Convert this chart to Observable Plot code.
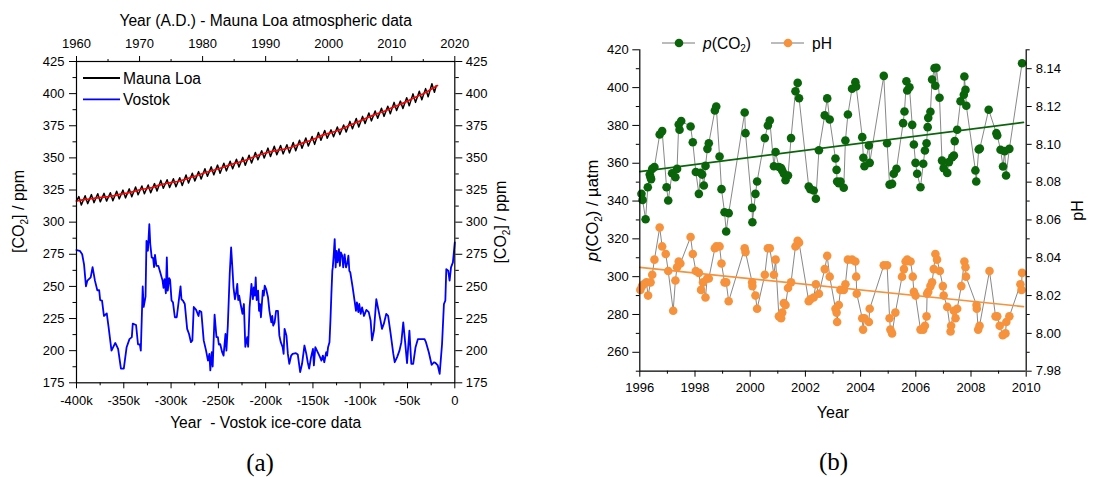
<!DOCTYPE html>
<html><head><meta charset="utf-8">
<script src="https://cdn.jsdelivr.net/npm/d3@7"></script>
<script src="https://cdn.jsdelivr.net/npm/@observablehq/plot@0.6"></script>
<style>
body{margin:0;background:#fff;}
#wrap{position:relative;width:1099px;height:477px;overflow:hidden;background:#fff;font-family:"Liberation Sans",Arial,sans-serif;}
#pa,#pb{position:absolute;top:0;}
#pa{left:0}
#pb{left:550px}
#ov{position:absolute;left:0;top:0;pointer-events:none}
</style></head>
<body><div id="wrap"><div id="pa"></div><div id="pb"></div><svg id="ov" width="1099" height="477"></svg></div>
<script>
// ---------- Panel (a) data ----------
const mlYears = d3.range(1960, 2017);
const mlPeak = [319.9,320.6,321.4,322.1,322.4,322.9,324.1,324.9,325.9,327.4,
  328.1,328.9,330.0,332.5,333.0,333.8,334.6,336.7,338.0,339.3,
  341.5,343.0,344.4,345.9,347.4,348.9,350.4,352.0,354.2,355.6,
  357.6,359.1,359.6,360.2,362.0,363.8,365.5,366.7,369.7,371.3,
  371.8,374.0,375.6,378.4,380.6,382.3,384.9,386.5,388.6,390.2,
  393.2,394.2,396.8,399.8,401.8,403.9,407.7];
const mlTrough = [313.3,314.4,315.2,315.8,316.4,316.7,318.1,318.9,319.7,321.3,
  322.1,322.9,324.2,326.4,326.9,327.6,328.5,330.5,332.1,333.5,
  335.7,336.8,338.1,339.9,341.6,342.9,344.3,346.1,348.6,349.9,
  351.1,352.4,353.1,353.9,355.6,357.5,359.3,360.5,363.7,365.3,
  366.5,368.2,370.1,372.7,374.0,376.7,378.8,380.8,382.3,384.3,
  386.8,388.4,390.5,393.2,395.3,397.5,401.0];
const mlFirst = [1960.0, 316.4];
const mlLast = [2017.05, 406.1];
const mlTrend = [[1960,316.5],[1961,317.3],[1962,318.0],[1963,318.7],[1964,319.3],[1965,319.8],[1966,320.7],[1967,321.8],[1968,322.6],[1969,323.8],
  [1970,325.2],[1971,326.0],[1972,326.9],[1973,328.6],[1974,329.9],[1975,330.7],[1976,331.6],[1977,332.9],[1978,334.6],[1979,336.1],
  [1980,337.8],[1981,339.4],[1982,340.8],[1983,342.3],[1984,344.0],[1985,345.6],[1986,347.0],[1987,348.5],[1988,350.5],[1989,352.4],
  [1990,353.8],[1991,355.1],[1992,356.1],[1993,356.9],[1994,358.1],[1995,360.0],[1996,361.9],[1997,363.3],[1998,365.4],[1999,367.7],
  [2000,369.1],[2001,370.5],[2002,372.4],[2003,374.7],[2004,376.8],[2005,378.8],[2006,381.0],[2007,383.1],[2008,384.9],[2009,386.7],
  [2010,388.9],[2011,391.0],[2012,393.0],[2013,395.4],[2014,397.8],[2015,399.9],[2016,402.7],[2017,405.6],[2017.25,406.3]];
// Vostok: [thousand years, ppm]
const vostok = [[-400,278.3],[-396.5,277.7],[-394,275],[-392,267],[-390,250],[-388.5,254.5],[-385,257],[-383,265],[-380.5,254.5],[-378,247],[-376,247],[-375,239.4],[-373,239],[-371,227],[-368,229],[-366,218],[-363,200],[-359,206],[-356,201.4],[-353,186],[-350,186],[-347,202.7],[-344,209],[-341.5,210.5],[-340.5,221],[-337,220],[-335,205],[-333,204.8],[-332,200],[-330,250],[-329,234],[-327,242],[-326,285.5],[-324.5,277.7],[-323,298.4],[-322,283],[-320.5,272.6],[-319,272],[-318,265],[-317,274.6],[-315.5,266],[-313.5,266],[-311.5,261],[-309,254.5],[-308,248.8],[-307,255.7],[-305.5,244.6],[-304.5,272.6],[-303.5,246.7],[-302,256.5],[-301,255],[-299.5,239],[-298,237.6],[-296,226],[-294,226],[-290,250],[-289,240],[-287.5,239],[-285.5,236.3],[-283,217],[-281,213],[-279,206.6],[-277.5,208],[-276,234],[-273.5,231.7],[-271,227],[-270,231],[-268,230],[-265.5,208],[-263,200],[-261,192.3],[-259.5,197.5],[-258.5,184.6],[-257,198.8],[-256,187.7],[-254,228],[-252,210.5],[-250.5,210.5],[-249.5,204.8],[-248,205],[-246,198.8],[-244.5,196.2],[-242.5,213],[-241.5,200],[-240,219.5],[-238,259.6],[-236.5,280.3],[-235,262.2],[-234,249.3],[-232.5,240],[-231,246],[-230,252],[-229,239.4],[-228,242.8],[-226.5,236.3],[-224.5,228.6],[-223,236.3],[-221.5,203],[-219.5,210.5],[-218.5,203],[-217,233.7],[-215,252],[-213.5,240],[-212.5,249.3],[-211.5,242.8],[-210.5,257],[-209.5,239.4],[-208,246.7],[-207,231],[-206,236.3],[-205,226],[-203,246.7],[-202,242.8],[-201,250.6],[-199.5,248],[-197.5,241.5],[-196,231],[-194,222],[-193,227],[-192,219.5],[-190.5,222],[-189,231],[-187,231],[-185.5,211.7],[-184,206.6],[-182,202.7],[-181,197.5],[-180,217],[-178,211.7],[-176.5,197.5],[-175,189.8],[-173,196.2],[-171.5,197.5],[-168,198],[-166,197],[-163.5,183.3],[-161.5,189.8],[-159,204],[-157,197.5],[-155.5,191],[-154,186],[-152,195],[-150,201.4],[-149,188.5],[-147.5,202.7],[-145,198.8],[-142.5,195],[-141,192.3],[-139.5,196.2],[-138,191],[-136,198.8],[-135,196.2],[-134,202.7],[-132.5,206.6],[-131.5,223.4],[-130.5,244],[-129.5,262],[-129,264.8],[-128,275],[-127,286.8],[-126,264.8],[-125,277.7],[-124,268.7],[-122.5,279],[-121.5,266],[-120.5,276.4],[-119,273.9],[-118,264.8],[-116.5,275],[-115,264.8],[-113.5,268.7],[-112.5,273.9],[-111.5,262],[-110.5,261],[-108,249.3],[-106,239],[-104.5,231],[-103.5,237.6],[-102,230],[-101,236.3],[-99.5,228.6],[-98,233.7],[-96,227],[-93.5,231.7],[-91,230],[-89,223.4],[-87.5,208],[-85.5,215.6],[-83,240],[-81,232.5],[-78.5,223.4],[-77,217],[-75,221],[-72.5,228.6],[-70.5,227],[-68,214],[-65,197.5],[-63.5,191],[-61,195],[-58.5,200],[-56.5,206.6],[-54.5,222],[-53,210.5],[-50.5,190.3],[-48,215.6],[-46,189.8],[-44,189.8],[-41.5,202.7],[-39,209],[-36.5,209],[-32,209],[-30.5,206.6],[-27.5,198.8],[-24.5,189],[-22,191],[-20.5,190.5],[-18,188.5],[-16,182],[-13.5,205],[-11.5,236.3],[-10,239],[-9,263.5],[-7,262.2],[-5.5,254.5],[-4,264.8],[-2,268.7],[0,284.2]];
const xMajorA = [-400,-350,-300,-250,-200,-150,-100,-50,0];
const xMinorA = [-375,-325,-275,-225,-175,-125,-75,-25];
const topMajorA = [1960,1970,1980,1990,2000,2010,2020];
const topMinorA = [1965,1975,1985,1995,2005,2015];
const yMajorA = [175,200,225,250,275,300,325,350,375,400,425];
const yMinorA = [187.5,212.5,237.5,262.5,287.5,312.5,337.5,362.5,387.5,412.5];

// ---------- Panel (b) data ----------
const co2 = [[1996.06,343.8],[1996.10,340.6],[1996.21,330.4],[1996.29,347.3],[1996.36,354.0],[1996.39,352.6],[1996.41,351.6],[1996.45,357.0],[1996.53,358.0],[1996.72,375.2],[1996.81,377.0],[1996.97,347.3],[1997.03,340.3],[1997.17,354.7],[1997.29,352.6],[1997.35,357.0],[1997.41,380.5],[1997.44,377.7],[1997.50,382.3],[1997.84,379.4],[1997.92,371.1],[1998.03,355.4],[1998.14,343.8],[1998.20,355.0],[1998.26,354.0],[1998.32,348.2],[1998.38,358.6],[1998.45,367.6],[1998.50,370.6],[1998.72,387.9],[1998.77,390.0],[1998.89,363.6],[1998.96,346.3],[1999.07,334.1],[1999.13,323.9],[1999.22,333.6],[1999.80,386.8],[1999.83,375.9],[2000.07,336.4],[2000.08,328.8],[2000.19,343.8],[2000.25,350.3],[2000.53,373.3],[2000.64,380.0],[2000.71,382.6],[2000.86,358.4],[2000.92,365.9],[2001.04,358.0],[2001.12,357.5],[2001.16,356.2],[2001.22,354.4],[2001.28,351.0],[2001.37,353.5],[2001.48,373.3],[2001.64,398.1],[2001.72,402.5],[2001.77,394.4],[2002.12,347.7],[2002.18,346.3],[2002.30,345.6],[2002.38,341.2],[2002.49,366.9],[2002.70,385.3],[2002.79,394.3],[2002.88,383.1],[2003.09,362.5],[2003.13,356.5],[2003.15,350.3],[2003.21,349.5],[2003.27,350.3],[2003.39,347.0],[2003.45,372.0],[2003.54,385.8],[2003.69,399.4],[2003.81,402.9],[2003.84,400.6],[2004.06,373.8],[2004.10,362.9],[2004.14,358.4],[2004.30,369.4],[2004.33,360.2],[2004.84,406.2],[2004.96,370.6],[2005.05,348.7],[2005.14,349.1],[2005.20,354.4],[2005.30,357.0],[2005.54,381.2],[2005.59,387.4],[2005.66,403.4],[2005.69,398.5],[2005.77,400.2],[2005.87,380.3],[2005.93,369.9],[2005.99,360.2],[2006.05,354.4],[2006.17,347.3],[2006.27,359.7],[2006.33,366.7],[2006.39,370.6],[2006.43,379.1],[2006.45,384.0],[2006.53,387.2],[2006.59,404.3],[2006.68,410.3],[2006.71,401.0],[2006.75,410.5],[2006.86,394.6],[2006.95,361.4],[2007.01,357.4],[2007.14,354.9],[2007.20,360.6],[2007.32,363.2],[2007.38,364.1],[2007.41,371.7],[2007.50,377.7],[2007.62,392.8],[2007.74,396.2],[2007.76,405.9],[2007.80,398.8],[2007.83,390.4],[2008.16,356.2],[2008.19,350.3],[2008.28,367.3],[2008.32,367.8],[2008.64,388.3],[2008.92,375.9],[2008.95,374.7],[2009.07,367.1],[2009.16,358.3],[2009.22,366.4],[2009.27,353.5],[2009.39,367.6],[2009.85,412.9]];
const ph = [[1996.02,8.023],[1996.08,8.025],[1996.14,8.026],[1996.24,8.027],[1996.30,8.020],[1996.39,8.027],[1996.45,8.031],[1996.53,8.039],[1996.72,8.056],[1996.81,8.046],[1996.94,8.042],[1997.03,8.033],[1997.21,8.012],[1997.29,8.028],[1997.35,8.035],[1997.41,8.038],[1997.47,8.037],[1997.84,8.051],[1997.92,8.042],[1998.03,8.033],[1998.14,8.032],[1998.22,8.023],[1998.29,8.027],[1998.38,8.019],[1998.44,8.029],[1998.50,8.029],[1998.72,8.045],[1998.77,8.046],[1998.89,8.046],[1998.96,8.037],[1999.07,8.027],[1999.13,8.027],[1999.22,8.017],[1999.80,8.045],[1999.83,8.043],[2000.07,8.027],[2000.08,8.025],[2000.19,8.020],[2000.25,8.013],[2000.53,8.031],[2000.64,8.045],[2000.71,8.045],[2000.86,8.031],[2000.92,8.039],[2001.04,8.009],[2001.12,8.008],[2001.16,8.011],[2001.22,8.016],[2001.28,8.015],[2001.37,8.024],[2001.48,8.027],[2001.64,8.046],[2001.72,8.049],[2001.77,8.048],[2002.12,8.017],[2002.18,8.018],[2002.30,8.019],[2002.38,8.026],[2002.49,8.021],[2002.70,8.034],[2002.79,8.041],[2002.88,8.030],[2003.09,8.013],[2003.13,8.011],[2003.15,8.006],[2003.21,8.015],[2003.27,8.023],[2003.39,8.023],[2003.45,8.026],[2003.54,8.039],[2003.69,8.039],[2003.81,8.038],[2003.84,8.030],[2003.86,8.021],[2004.06,8.008],[2004.09,8.002],[2004.14,8.008],[2004.30,8.006],[2004.33,8.013],[2004.84,8.036],[2004.96,8.036],[2005.05,8.008],[2005.08,8.002],[2005.14,8.000],[2005.26,8.011],[2005.50,8.030],[2005.57,8.034],[2005.63,8.038],[2005.69,8.039],[2005.81,8.038],[2005.89,8.030],[2005.93,8.022],[2005.99,8.020],[2006.17,8.002],[2006.27,8.002],[2006.33,8.004],[2006.39,8.009],[2006.41,8.021],[2006.45,8.022],[2006.53,8.025],[2006.59,8.027],[2006.65,8.034],[2006.71,8.042],[2006.77,8.039],[2006.87,8.033],[2006.98,8.025],[2007.01,8.020],[2007.14,8.014],[2007.26,8.001],[2007.28,8.004],[2007.38,8.012],[2007.44,8.008],[2007.50,8.013],[2007.65,8.025],[2007.76,8.038],[2007.80,8.035],[2007.82,8.030],[2008.20,8.015],[2008.21,8.013],[2008.26,8.002],[2008.31,8.004],[2008.67,8.033],[2008.89,8.009],[2008.95,8.009],[2009.04,8.004],[2009.15,7.999],[2009.25,8.000],[2009.28,8.006],[2009.39,8.009],[2009.79,8.026],[2009.83,8.023],[2009.85,8.032]];
const co2Trend = [[1996, 355.6],[2009.9, 381.6]];
const phTrend = [[1996, 8.0349],[2009.9, 8.0142]];
const xMajorB = [1996,1998,2000,2002,2004,2006,2008,2010];
const xMinorB = [1997,1999,2001,2003,2005,2007,2009];
const yMajorB = [260,280,300,320,340,360,380,400,420];
const yMinorB = [250,270,290,310,330,350,370,390,410];
const phMajor = [7.98,8.00,8.02,8.04,8.06,8.08,8.10,8.12,8.14];
const phMinor = [7.99,8.01,8.03,8.05,8.07,8.09,8.11,8.13,8.15];

const FONT = '"Liberation Sans", Arial, sans-serif';
const GREEN = "#0a650a", ORANGE = "#f7923c", CONN = "#555";

// ---------- Panel (a) ----------
const toV = yr => (yr - 2020) * 400 / 60;
const fromV = v => String(Math.round(2020 + v * 60 / 400));
const mlPts = [mlFirst];
mlYears.forEach((y, i) => { mlPts.push([y + 0.37, mlPeak[i]]); mlPts.push([y + 0.77, mlTrough[i]]); });
mlPts.push(mlLast);
const blank = () => "";
const yTitleA = "[CO2] / ppm";
const T = {lineAnchor: "middle", textAnchor: "middle"};

const A = Plot.plot({
  width: 550, height: 440,
  marginLeft: 76, marginRight: 95.7, marginTop: 61, marginBottom: 57.7,
  style: {fontFamily: FONT, fontSize: "13px", color: "#000", background: "transparent", overflow: "visible"},
  x: {domain: [-400, 0]},
  y: {domain: [175, 425]},
  marks: [
    Plot.line(vostok, {x: d => d[0], y: d => d[1], stroke: "#0000ff", strokeWidth: 1.8}),
    Plot.line(mlPts, {x: d => toV(d[0]), y: d => d[1], stroke: "#000", strokeWidth: 1.5}),
    Plot.line(mlTrend, {x: d => toV(d[0]), y: d => d[1], stroke: "#ff0000", strokeWidth: 1.7}),
    Plot.frame({stroke: "#000", strokeWidth: 1.2}),
    Plot.axisX(xMajorA, {anchor: "bottom", tickSize: 6, tickPadding: 6.5, tickFormat: d => d === 0 ? "0" : `${d}k`, label: null}),
    Plot.axisX(xMinorA, {anchor: "bottom", tickSize: 3, tickFormat: blank, label: null}),
    Plot.axisX(topMajorA.map(toV), {anchor: "top", tickSize: 6, tickPadding: 7.5, tickFormat: fromV, label: null}),
    Plot.axisX(topMinorA.map(toV), {anchor: "top", tickSize: 3, tickFormat: blank, label: null}),
    Plot.axisY(yMajorA, {anchor: "left", tickSize: 7, tickPadding: 5, label: null}),
    Plot.axisY(yMinorA, {anchor: "left", tickSize: 3.5, tickFormat: blank, label: null}),
    Plot.axisY(yMajorA, {anchor: "right", tickSize: 7, tickPadding: 4, label: null}),
    Plot.axisY(yMinorA, {anchor: "right", tickSize: 3.5, tickFormat: blank, label: null}),
    Plot.text(["Year (A.D.) - Mauna Loa atmospheric data"], {...T, text: d => d, frameAnchor: "top", dy: -40.5, fontSize: 15.6}),
    Plot.text(["Year  - Vostok ice-core data"], {...T, text: d => d, frameAnchor: "bottom", dy: 40.2, fontSize: 15.6}),
    Plot.text([yTitleA], {...T, text: d => d, frameAnchor: "left", dx: -57.5, dy: -10.7, rotate: -90, fontSize: 16}),
    Plot.text([yTitleA], {...T, text: d => d, frameAnchor: "right", dx: 45.7, rotate: -90, fontSize: 16})
  ]
});
document.getElementById("pa").appendChild(A);

// ---------- Panel (b) ----------
const toP = v => 250 + (v - 7.98) * 1000;
const fromP = p => (7.98 + (p - 250) / 1000).toFixed(2);
const yTitleB = "p(CO2) / µatm";
const B = Plot.plot({
  width: 549, height: 440,
  marginLeft: 89.3, marginRight: 73.3, marginTop: 49.3, marginBottom: 69.3,
  style: {fontFamily: FONT, fontSize: "13px", color: "#000", background: "transparent", overflow: "visible"},
  x: {domain: [1996, 2010]},
  y: {domain: [250, 420]},
  marks: [
    Plot.line(co2, {x: d => d[0], y: d => d[1], stroke: CONN, strokeWidth: 0.7}),
    Plot.line(ph, {x: d => d[0], y: d => toP(d[1]), stroke: CONN, strokeWidth: 0.7}),
    Plot.dot(co2, {x: d => d[0], y: d => d[1], r: 4.3, fill: GREEN}),
    Plot.dot(ph, {x: d => d[0], y: d => toP(d[1]), r: 4.3, fill: ORANGE}),
    Plot.line(co2Trend, {x: d => d[0], y: d => d[1], stroke: GREEN, strokeWidth: 1.7}),
    Plot.line(phTrend, {x: d => d[0], y: d => toP(d[1]), stroke: ORANGE, strokeWidth: 1.7}),
    Plot.ruleX([1996], {stroke: "#000", strokeWidth: 1.2}),
    Plot.ruleX([2010], {stroke: "#000", strokeWidth: 1.2}),
    Plot.ruleY([250], {stroke: "#000", strokeWidth: 1.2}),
    Plot.axisX(xMajorB, {anchor: "bottom", tickSize: 6, tickPadding: 5.5, tickFormat: d => String(d), label: null}),
    Plot.axisX(xMinorB, {anchor: "bottom", tickSize: 3, tickFormat: blank, label: null}),
    Plot.axisY(yMajorB, {anchor: "left", tickSize: 7, tickPadding: 4, label: null}),
    Plot.axisY(yMinorB, {anchor: "left", tickSize: 3.5, tickFormat: blank, label: null}),
    Plot.axisY(phMajor.map(toP), {anchor: "right", tickSize: 5, tickPadding: 4.5, tickFormat: fromP, label: null}),
    Plot.axisY(phMinor.map(toP), {anchor: "right", tickSize: 3, tickFormat: blank, label: null}),
    Plot.text(["Year"], {...T, text: d => d, frameAnchor: "bottom", dy: 41.8, fontSize: 16}),
    Plot.text([yTitleB], {...T, text: d => d, frameAnchor: "left", dx: -47.3, rotate: -90, fontSize: 16.5}),
    Plot.text(["pH"], {...T, text: d => d, frameAnchor: "right", dx: 51.3, rotate: -90, fontSize: 16})
  ]
});
document.getElementById("pb").appendChild(B);

// subscripts / italics in titles
d3.select(A).selectAll("text").filter(function(){ return this.textContent === yTitleA; })
  .html('[CO<tspan dy="4" font-size="10">2</tspan><tspan dy="-4">] / ppm</tspan>');
d3.select(B).selectAll("text").filter(function(){ return this.textContent === yTitleB; })
  .html('<tspan font-style="italic">p</tspan>(CO<tspan dy="4" font-size="10">2</tspan><tspan dy="-4">) / µatm</tspan>');

// ---------- Legends and captions ----------
const ov = d3.select("#ov").attr("font-family", FONT);
const legA = [{label: "Mauna Loa", color: "#000"}, {label: "Vostok", color: "#0000ff"}];
legA.forEach((d, i) => {
  const y = 78 + i * 21.3;
  ov.append("line").attr("x1", 83).attr("x2", 120).attr("y1", y).attr("y2", y).attr("stroke", d.color).attr("stroke-width", 1.8);
  ov.append("text").attr("x", 123).attr("y", y + 5.6).attr("font-size", 15.6).text(d.label);
});
const legB = [{x: 662, color: GREEN, html: '<tspan font-style="italic">p</tspan>(CO<tspan dy="3.5" font-size="10">2</tspan><tspan dy="-3.5">)</tspan>'},
              {x: 771, color: ORANGE, html: 'pH'}];
legB.forEach(d => {
  const y = 43;
  ov.append("line").attr("x1", d.x).attr("x2", d.x + 33).attr("y1", y).attr("y2", y).attr("stroke", CONN).attr("stroke-width", 0.8);
  ov.append("circle").attr("cx", d.x + 17).attr("cy", y).attr("r", 4.3).attr("fill", d.color);
  ov.append("text").attr("x", d.x + 41).attr("y", y + 5.6).attr("font-size", 15.6).html(d.html);
});
ov.append("text").attr("x", 260).attr("y", 471).attr("text-anchor", "middle").attr("font-family", '"Liberation Serif", "DejaVu Serif", serif').attr("font-size", 25).text("(a)");
ov.append("text").attr("x", 833.5).attr("y", 470).attr("text-anchor", "middle").attr("font-family", '"Liberation Serif", "DejaVu Serif", serif').attr("font-size", 25).text("(b)");
</script>
</body></html>
